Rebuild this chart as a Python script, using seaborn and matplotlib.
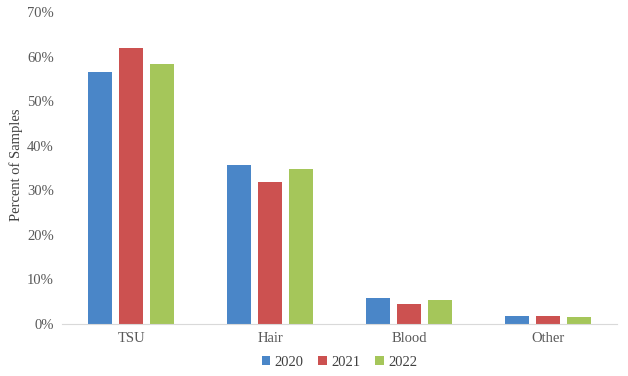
import numpy as np
import pandas as pd
import matplotlib
matplotlib.use("Agg")
import matplotlib.pyplot as plt
from matplotlib.ticker import PercentFormatter
import seaborn as sns

categories = ["TSU", "Hair", "Blood", "Other"]
years = ["2020", "2021", "2022"]
pct_2020 = [56.6, 35.7, 5.8, 1.8]
pct_2021 = [61.9, 31.9, 4.4, 1.9]
pct_2022 = [58.3, 34.8, 5.3, 1.5]
colors = ["#4a86c8", "#cc5150", "#a5c65a"]

df = pd.DataFrame({
  "category": categories * 3,
  "year": [y for y in years for _ in categories],
  "pct": pct_2020 + pct_2021 + pct_2022,
})

sns.set_style("white")
plt.rcParams["font.family"] = ["Liberation Serif", "DejaVu Serif"]

fig = plt.figure(figsize=(6.28, 3.76), dpi=100)
ax = fig.add_axes([62/628, 52/376, 555/628, 312/376])
sns.barplot(
  data=df,
  x="category",
  y="pct",
  hue="year",
  order=categories,
  hue_order=years,
  palette=colors,
  width=0.67,
  gap=0.22,
  saturation=1,
  linewidth=0,
  ax=ax,
)
ax.set_ylim(0, 70)
ax.set_xlim(-0.5, 3.5)
ax.set_yticks(np.arange(0, 71, 10))
ax.yaxis.set_major_formatter(PercentFormatter(decimals=0))
ax.tick_params(axis="both", colors="#595959", labelsize=10.5, length=0)
ax.tick_params(axis="y", pad=6)
ax.tick_params(axis="x", pad=6)
for s in ["top", "right", "left"]:
  ax.spines[s].set_visible(False)
ax.spines["bottom"].set_color("#d9d9d9")
ax.set_xlabel("")
ax.set_ylabel("Percent of Samples", color="#404040", fontsize=10.5)
ax.yaxis.set_label_coords(-0.071, 0.51)
ax.legend(
  title=None,
  loc="center",
  bbox_to_anchor=(0.5, -0.122),
  ncol=3,
  frameon=False,
  fontsize=10.5,
  handlelength=0.6,
  handleheight=0.6,
  handletextpad=0.3,
  columnspacing=1.0,
  labelcolor="#404040",
)
plt.savefig("out.png", dpi=100)
